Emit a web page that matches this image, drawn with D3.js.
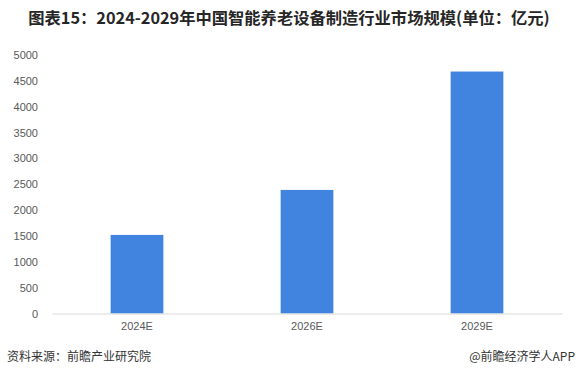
<!DOCTYPE html>
<html><head><meta charset="utf-8">
<script src="https://cdn.jsdelivr.net/npm/d3@7"></script>
<style>body{margin:0;background:#fff;} svg{display:block;}</style>
</head><body>
<svg id="c" width="579" height="380"></svg>
<script>
const categories = ["2024E", "2026E", "2029E"];
const values = [1520, 2390, 4680];
const yTicks = [0, 500, 1000, 1500, 2000, 2500, 3000, 3500, 4000, 4500, 5000];
const titleText = "图表15：2024-2029年中国智能养老设备制造行业市场规模(单位：亿元)";
const sourceText = "资料来源：前瞻产业研究院";
const creditText = "@前瞻经济学人APP";

(function () {
const svg = d3.select("#c");
const font = "'Noto Sans CJK SC','Microsoft YaHei',sans-serif";
const mLeft = 52, mRight = 562, mTop = 55, mBottom = 313.5;

const x = d3.scaleBand().domain(categories).range([mLeft, mRight]).paddingInner(0.69).paddingOuter(0.345);
const y = d3.scaleLinear().domain([0, 5000]).range([mBottom, mTop]);

svg.append("text").attr("x", 289).attr("y", 24).attr("text-anchor", "middle")
  .attr("font-family", font).attr("font-weight", "bold").attr("font-size", 16.3)
  .attr("fill", "#262626").text(titleText);

svg.append("g").selectAll("rect").data(values).join("rect")
  .attr("x", (d, i) => x(categories[i]))
  .attr("width", x.bandwidth())
  .attr("y", d => y(d))
  .attr("height", d => mBottom - y(d))
  .attr("fill", "#4084e0");

const ya = svg.append("g").attr("transform", `translate(${mLeft},0)`)
  .call(d3.axisLeft(y).tickValues(yTicks).tickSize(0).tickPadding(14).tickFormat(d3.format("d")));
ya.select(".domain").remove();
ya.selectAll("text").attr("font-family", "'Liberation Sans',Arial,sans-serif").attr("font-size", 11).attr("fill", "#595959");

const xa = svg.append("g").attr("transform", `translate(0,${mBottom})`)
  .call(d3.axisBottom(x).tickSize(0).tickPadding(9));
xa.select(".domain").attr("stroke", "#d9d9d9");
xa.selectAll("text").attr("font-family", "'Liberation Sans',Arial,sans-serif").attr("font-size", 11).attr("fill", "#595959");

svg.append("text").attr("x", 7).attr("y", 361).attr("font-family", font).attr("font-size", 12)
  .attr("fill", "#333").text(sourceText);
svg.append("text").attr("x", 575).attr("y", 361).attr("text-anchor", "end").attr("font-family", font).attr("font-size", 12)
  .attr("fill", "#333").text(creditText);
})();
</script>
</body></html>
